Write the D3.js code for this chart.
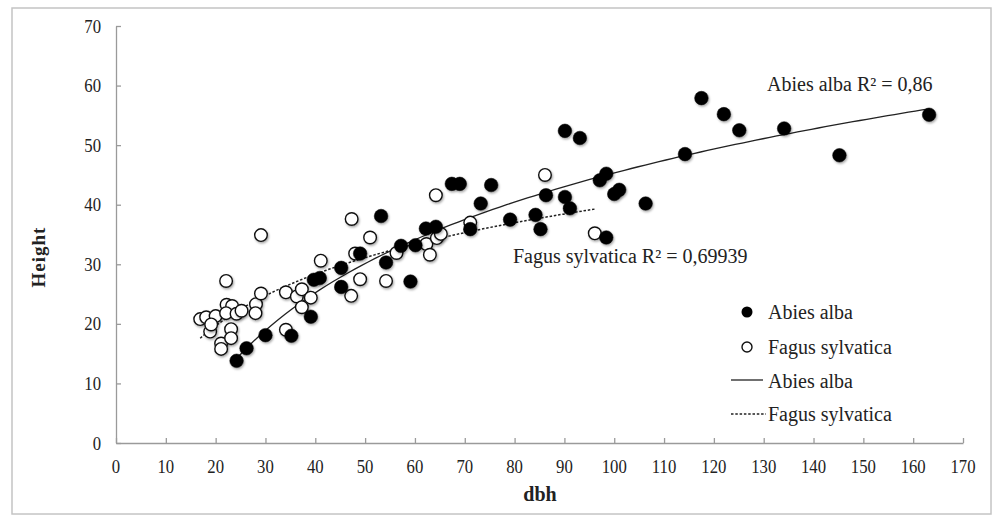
<!DOCTYPE html>
<html><head><meta charset="utf-8">
<script src="https://cdn.jsdelivr.net/npm/d3@7"></script>
<style>
html,body{margin:0;padding:0;background:#fff;}
svg text{font-family:"Liberation Serif","Times New Roman",serif;fill:#222;}
</style></head>
<body>
<svg id="chart" width="1002" height="520"></svg>
<script>
// ---- data ----
const abiesDbh = [24.2,26.2,30.0,35.2,39.1,39.7,40.9,45.2,45.2,49.0,53.2,54.2,57.2,59.1,60.1,62.2,64.2,67.4,69.0,71.1,73.2,75.3,79.1,84.2,85.2,86.3,90.1,91.1,90.1,93.1,97.1,98.4,98.4,100.0,101.0,106.3,114.2,117.5,122.0,125.1,134.1,145.2,163.2];
const abiesHeight = [13.8,15.9,18.1,18.0,21.2,27.4,27.7,29.4,26.2,31.8,38.1,30.3,33.1,27.1,33.2,36.0,36.3,43.5,43.5,35.9,40.2,43.3,37.5,38.3,35.9,41.6,41.3,39.4,52.4,51.2,44.1,45.2,34.5,41.8,42.5,40.2,48.5,57.9,55.2,52.5,52.8,48.3,55.1];
const fagusDbh = [16.9,18.1,20.0,18.9,19.1,21.1,21.1,22.1,22.2,23.3,22.1,24.2,25.2,23.1,23.1,28.1,28.0,29.1,29.1,34.1,34.1,36.3,37.3,37.3,39.1,41.1,47.3,47.2,48.0,49.0,51.0,54.2,56.3,62.3,63.0,64.2,64.4,65.2,71.1,86.1,96.1];
const fagusHeight = [20.8,21.1,21.3,18.7,19.9,16.7,15.8,27.2,23.2,23.0,21.8,21.7,22.2,19.1,17.6,23.3,21.8,25.1,34.9,25.3,19.0,24.6,25.8,22.8,24.4,30.6,37.6,24.7,31.8,27.5,34.5,27.2,31.9,33.4,31.6,41.6,34.4,35.1,37.0,45.0,35.2];
const xTicks = [0,10,20,30,40,50,60,70,80,90,100,110,120,130,140,150,160,170];
const yTicks = [0,10,20,30,40,50,60,70];
const seriesNames = ["Abies alba","Fagus sylvatica"];
const r2Labels = ["Abies alba R² = 0,86","Fagus sylvatica R² = 0,69939"];

// ---- layout ----
const svg = d3.select("#chart");
const x = d3.scaleLinear().domain([0,170]).range([116,963]);
const y = d3.scaleLinear().domain([0,70]).range([443,26]);

// outer frame
svg.append("rect").attr("x",12).attr("y",8).attr("width",979).attr("height",506)
  .attr("fill","none").attr("stroke","#c4c4c4").attr("stroke-width",1.5);

const defs = svg.append("defs");
const f = defs.append("filter").attr("id","sh").attr("x","-50%").attr("y","-50%").attr("width","200%").attr("height","200%");
f.append("feDropShadow").attr("dx",1).attr("dy",1.5).attr("stdDeviation",1.2).attr("flood-color","#000").attr("flood-opacity",0.35);

// axes
const axisColor = "#9a9a9a";
const gx = svg.append("g").attr("transform","translate(0,443)")
  .call(d3.axisTop(x).tickValues(xTicks).tickSize(5).tickSizeOuter(0).tickFormat(""));
gx.selectAll("path,line").attr("stroke",axisColor).attr("stroke-width",1.3);
svg.append("g").selectAll("text").data(xTicks).join("text")
  .attr("transform",d=>`translate(${x(d)},473) scale(0.88,1)`).attr("text-anchor","middle")
  .style("font-size","19px").text(d=>d);

const gy = svg.append("g").attr("transform","translate(116,0)")
  .call(d3.axisRight(y).tickValues(yTicks).tickSize(5).tickSizeOuter(0).tickFormat(""));
gy.selectAll("path,line").attr("stroke",axisColor).attr("stroke-width",1.3);
svg.append("g").selectAll("text").data(yTicks).join("text")
  .attr("transform",d=>`translate(101,${y(d)+6.5}) scale(0.88,1)`).attr("text-anchor","end")
  .style("font-size","19px").text(d=>d);

// axis titles
svg.append("text").attr("x",540).attr("y",501).attr("text-anchor","middle")
  .style("font-size","20px").style("font-weight","bold").text("dbh");
svg.append("text").attr("transform","translate(45,257) rotate(-90)").attr("text-anchor","middle")
  .style("font-size","19px").style("font-weight","bold").style("letter-spacing","1px").text("Height");

// log trend fits (least squares on ln x)
function logFit(xs, ys){
  const lx = xs.map(Math.log);
  const mx = d3.mean(lx), my = d3.mean(ys);
  let sxy=0,sxx=0;
  lx.forEach((v,i)=>{sxy+=(v-mx)*(ys[i]-my);sxx+=(v-mx)*(v-mx);});
  const a = sxy/sxx, b = my - a*mx;
  return v => a*Math.log(v)+b;
}
function trend(xs, ys){
  const fn = logFit(xs, ys);
  const [lo,hi] = d3.extent(xs);
  return d3.range(0,101).map(i=>{const v=lo+(hi-lo)*i/100;return [v,fn(v)];});
}
const line = d3.line().x(d=>x(d[0])).y(d=>y(d[1]));
svg.append("path").attr("d",line(trend(abiesDbh,abiesHeight)))
  .attr("fill","none").attr("stroke","#222").attr("stroke-width",1.3);
svg.append("path").attr("d",line(trend(fagusDbh,fagusHeight)))
  .attr("fill","none").attr("stroke","#222").attr("stroke-width",1.5).attr("stroke-dasharray","2.5,1.8");

// points
const fagusPts = fagusDbh.map((d,i)=>[d,fagusHeight[i]]);
const abiesPts = abiesDbh.map((d,i)=>[d,abiesHeight[i]]);
svg.append("g").selectAll("circle").data(fagusPts).join("circle")
  .attr("cx",d=>x(d[0])).attr("cy",d=>y(d[1])).attr("r",6.3)
  .attr("fill","#fff").attr("stroke","#111").attr("stroke-width",1.4).attr("filter","url(#sh)");
svg.append("g").selectAll("circle").data(abiesPts).join("circle")
  .attr("cx",d=>x(d[0])).attr("cy",d=>y(d[1])).attr("r",6.8)
  .attr("fill","#000").attr("stroke","#000").attr("stroke-width",0.5).attr("filter","url(#sh)");

// R² labels
svg.append("text").attr("x",767).attr("y",91).style("font-size","20px").text(r2Labels[0]);
svg.append("text").attr("x",513).attr("y",263).style("font-size","20px").text(r2Labels[1]);

// legend
const lg = svg.append("g");
lg.append("circle").attr("cx",747).attr("cy",312).attr("r",5.5).attr("fill","#000");
lg.append("circle").attr("cx",747).attr("cy",347).attr("r",5).attr("fill","#fff").attr("stroke","#111").attr("stroke-width",1.4);
lg.append("line").attr("x1",731).attr("x2",763).attr("y1",380).attr("y2",380).attr("stroke","#222").attr("stroke-width",1.3);
lg.append("line").attr("x1",731).attr("x2",766).attr("y1",414).attr("y2",414).attr("stroke","#222").attr("stroke-width",1.5).attr("stroke-dasharray","2.5,1.8");
const legY = [319,354,388,421];
const legT = [seriesNames[0],seriesNames[1],seriesNames[0],seriesNames[1]];
lg.selectAll("text").data(legT).join("text")
  .attr("x",768).attr("y",(d,i)=>legY[i]).style("font-size","20px").text(d=>d);
</script>
</body></html>
